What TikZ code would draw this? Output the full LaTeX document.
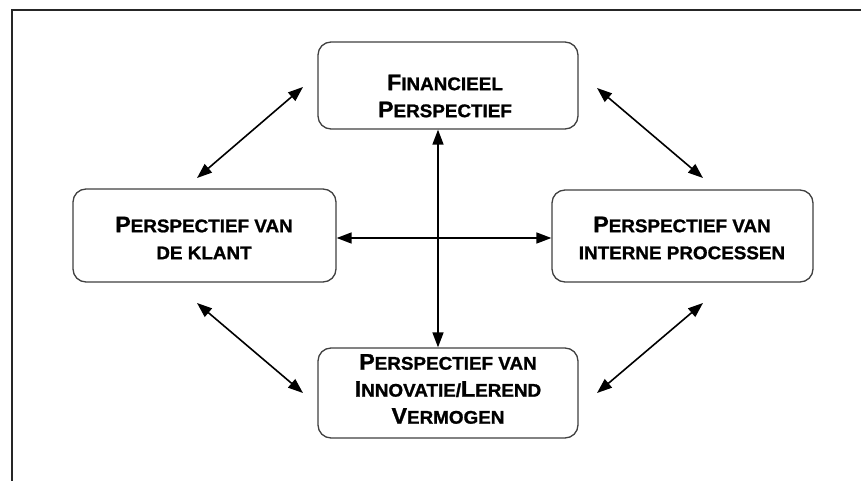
\documentclass[tikz,border=0pt]{standalone}
\usepackage{fontspec}
\setmainfont[BoldFeatures={FakeBold=1.2,FakeStretch=1.03}]{Liberation Sans}
\usetikzlibrary{arrows.meta}

% small-caps look: a larger initial capital followed by smaller capitals
\newcommand\Ini[1]{{\fontsize{22.5}{27}\selectfont #1}}

\tikzset{
  box/.style={draw=black!75, line width=1.3pt, rounded corners=13pt,
    inner sep=0pt, fill=white},
  boxtext/.style={align=center, inner sep=0pt,
    font=\bfseries\fontsize{18.3}{27}\selectfont},
  arr/.style={{Triangle[length=15pt,width=11pt]}-{Triangle[length=15pt,width=11pt]},
    line width=1.6pt, black},
  frame/.style={line width=1.3pt, black!85}
}

\begin{document}
\begin{tikzpicture}[x=1pt,y=-1pt]
  \useasboundingbox (0,0) rectangle (861,481);

  % open frame: top and left edges only
  \coordinate (fl) at (12,481);
  \coordinate (fc) at (12,10);
  \coordinate (fr) at (861,10);
  \draw[frame] (fl) -- (fc) -- (fr);

  % the four perspectives
  \node[box, minimum width=260pt, minimum height=87pt] (fin) at (448,85.5) {};
  \node[box, minimum width=263pt, minimum height=93pt] (kla) at (204.5,235.5) {};
  \node[box, minimum width=261pt, minimum height=92pt] (int) at (682.5,236) {};
  \node[box, minimum width=260pt, minimum height=90pt] (inn) at (448,393) {};

  \node[boxtext] (finT) at (445,96) {\Ini{F}INANCIEEL\\ \Ini{P}ERSPECTIEF};
  \node[boxtext] (klaT) at (204,238) {\Ini{P}ERSPECTIEF VAN\\ DE KLANT};
  \node[boxtext] (intT) at (682,238) {\Ini{P}ERSPECTIEF VAN\\ INTERNE PROCESSEN};
  \node[boxtext] (innT) at (448,389) {\Ini{P}ERSPECTIEF VAN\\ \Ini{I}NNOVATIE/\Ini{L}EREND\\ \Ini{V}ERMOGEN};

  % central cross
  \draw[arr] ([xshift=-10pt]fin.south) -- ([xshift=-10pt]inn.north);
  \draw[arr] ([yshift=-2.5pt]kla.east) -- ([yshift=-2pt]int.west);

  % diagonal links between neighbouring perspectives
  \coordinate (a1) at (197,178); \coordinate (a2) at (303,87);
  \coordinate (b1) at (597,88);  \coordinate (b2) at (703,178);
  \coordinate (c1) at (197,303); \coordinate (c2) at (303,393);
  \coordinate (d1) at (597,393); \coordinate (d2) at (703,303);
  \draw[arr] (a1) -- (a2);
  \draw[arr] (b1) -- (b2);
  \draw[arr] (c1) -- (c2);
  \draw[arr] (d1) -- (d2);
\end{tikzpicture}
\end{document}
